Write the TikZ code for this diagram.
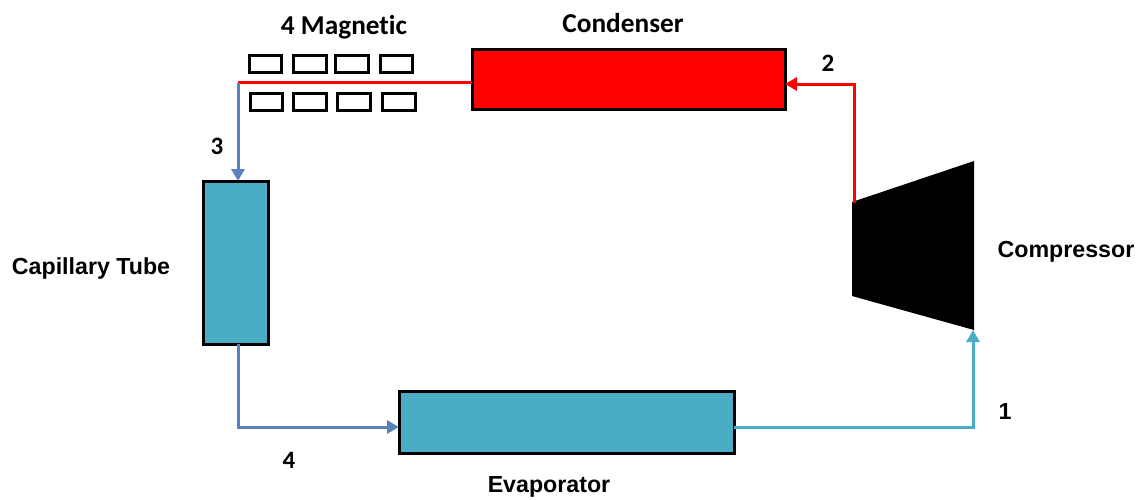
\documentclass[tikz,border=0pt]{standalone}
\usepackage{fontspec}
\setmainfont{Liberation Sans}
\newfontfamily\calfont{Carlito}[Ligatures=NoCommon]
\usetikzlibrary{arrows.meta,positioning}
\definecolor{teal}{RGB}{75,172,198}
\definecolor{steel}{RGB}{88,130,188}
\definecolor{redc}{RGB}{255,0,0}
\tikzset{
  x=1pt,y=-1pt,
  unit/.style={draw=black,line width=3pt,anchor=north west,inner sep=0pt,outer sep=0pt},
  magnet/.style={draw=black,line width=3pt,anchor=north west,inner sep=0pt,outer sep=0pt,fill=white},
  lab/.style={font=\bfseries\fontsize{23.2}{26}\selectfont,inner sep=0pt},
  calab/.style={font=\calfont\bfseries\fontsize{27.3}{30}\selectfont,inner sep=0pt},
  numlab/.style={font=\calfont\bfseries\fontsize{25}{28}\selectfont,inner sep=0pt},
  flow/.style={line width=3pt,-{Triangle[length=12pt,width=13pt]}},
}
\newcommand{\magbox}[5]{\node[magnet,minimum width=#4pt,minimum height=#5pt] (#1) at (#2,#3) {};}
\begin{document}
\begin{tikzpicture}
\useasboundingbox (0,0) rectangle (1141,499);
\node[unit,fill=redc,minimum width=313pt,minimum height=60pt] (cond) at (472,49) {};
\node[unit,fill=teal,minimum width=65pt,minimum height=163pt] (cap) at (203,181) {};
\node[unit,fill=teal,minimum width=335pt,minimum height=62pt] (evap) at (399,391) {};
\coordinate (cTL) at (852,202);
\coordinate (cTR) at (974,161);
\coordinate (cBR) at (974,330);
\coordinate (cBL) at (852,296);
\fill[black] (cTL) -- (cTR) -- (cBR) -- (cBL) -- cycle;
\magbox{m1}{249.5}{55.5}{32}{17}
\magbox{m2}{293.5}{55.5}{33}{17}
\magbox{m3}{335.5}{55.5}{33}{17}
\magbox{m4}{380.5}{55.5}{32}{17}
\magbox{m5}{250.5}{93.5}{32}{17}
\magbox{m6}{293.5}{93.5}{33}{17}
\magbox{m7}{337.5}{93.5}{33}{17}
\magbox{m8}{382.5}{93.5}{33}{17}
\coordinate (bend3) at (238,82.5);
\coordinate (bend4) at (238,427);
\coordinate (bend1) at (973,427);
\coordinate (bend2) at (854,84);
\coordinate (cOut) at (854,203);
\coordinate (cIn) at (973,330);
\draw[line width=3pt,redc] (cond.west |- bend3) -- (bend3);
\draw[flow,steel] (bend3) -- (bend3 |- cap.north);
\draw[flow,steel] (bend3 |- cap.south) -- (bend4) -- (evap.west |- bend4);
\draw[flow,teal] (evap.east |- bend1) -- (bend1) -- (cIn);
\draw[flow,redc] (cOut) -- (bend2) -- (cond.east |- bend2);
\node[calab,anchor=center] (t1) at (344,27) {4 Magnetic};
\node[calab,anchor=center] (t2) at (623,23) {Condenser};
\node[lab,anchor=center] (t3) at (91,268.5) {Capillary Tube};
\node[lab,anchor=center] (t4) at (1066,252) {Compressor};
\node[lab,anchor=center] (t5) at (549,487) {Evaporator};
\node[lab,anchor=center] (n1) at (1005,412) {1};
\node[numlab,anchor=center] (n2) at (828,63) {2};
\node[numlab,anchor=center] (n3) at (217,146) {3};
\node[numlab,anchor=center] (n4) at (289,460) {4};
\end{tikzpicture}
\end{document}
